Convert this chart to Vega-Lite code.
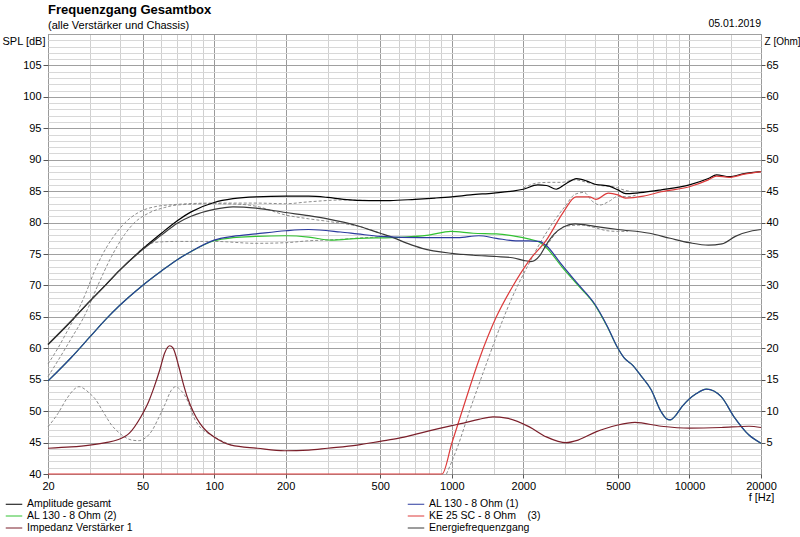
{
  "$schema": "https://vega.github.io/schema/vega-lite/v6.json",
  "autosize": "none",
  "padding": {"left": 48, "top": 34, "right": 39, "bottom": 63},
  "width": 713,
  "height": 440,
  "background": "white",
  "config": {
    "view": {"stroke": "#6e6e6e", "strokeWidth": 1},
    "font": "Liberation Sans"
  },
  "title": {
    "text": "Frequenzgang Gesamtbox",
    "subtitle": "(alle Verstärker und Chassis)",
    "anchor": "start",
    "frame": "group",
    "font": "Liberation Sans",
    "fontSize": 13,
    "fontWeight": "bold",
    "color": "#000000",
    "subtitleFont": "Liberation Sans",
    "subtitleFontSize": 11,
    "subtitleColor": "#000000",
    "subtitlePadding": 3,
    "offset": -12
  },
  "datasets": {
    "spl": [
      {"s": "Amplitude gesamt", "f": 20, "v": 60.6}, {"s": "Amplitude gesamt", "f": 25, "v": 64.3}, {"s": "Amplitude gesamt", "f": 30, "v": 67.5}, {"s": "Amplitude gesamt", "f": 35, "v": 70.1}, {"s": "Amplitude gesamt", "f": 40, "v": 72.4}, {"s": "Amplitude gesamt", "f": 50, "v": 75.8}, {"s": "Amplitude gesamt", "f": 60, "v": 78.3}, {"s": "Amplitude gesamt", "f": 70, "v": 80.3}, {"s": "Amplitude gesamt", "f": 80, "v": 81.7}, {"s": "Amplitude gesamt", "f": 100, "v": 83.2}, {"s": "Amplitude gesamt", "f": 120, "v": 83.8}, {"s": "Amplitude gesamt", "f": 150, "v": 84.1}, {"s": "Amplitude gesamt", "f": 200, "v": 84.2}, {"s": "Amplitude gesamt", "f": 250, "v": 84.2}, {"s": "Amplitude gesamt", "f": 300, "v": 84.0}, {"s": "Amplitude gesamt", "f": 350, "v": 83.7}, {"s": "Amplitude gesamt", "f": 450, "v": 83.5}, {"s": "Amplitude gesamt", "f": 550, "v": 83.5}, {"s": "Amplitude gesamt", "f": 700, "v": 83.7}, {"s": "Amplitude gesamt", "f": 850, "v": 83.9}, {"s": "Amplitude gesamt", "f": 1000, "v": 84.1}, {"s": "Amplitude gesamt", "f": 1200, "v": 84.4}, {"s": "Amplitude gesamt", "f": 1500, "v": 84.7}, {"s": "Amplitude gesamt", "f": 1800, "v": 85.0}, {"s": "Amplitude gesamt", "f": 2000, "v": 85.3}, {"s": "Amplitude gesamt", "f": 2300, "v": 86.0}, {"s": "Amplitude gesamt", "f": 2500, "v": 85.9}, {"s": "Amplitude gesamt", "f": 2750, "v": 85.3}, {"s": "Amplitude gesamt", "f": 3000, "v": 86.1}, {"s": "Amplitude gesamt", "f": 3350, "v": 87.0}, {"s": "Amplitude gesamt", "f": 3700, "v": 86.6}, {"s": "Amplitude gesamt", "f": 4000, "v": 86.1}, {"s": "Amplitude gesamt", "f": 4600, "v": 85.8}, {"s": "Amplitude gesamt", "f": 5000, "v": 85.2}, {"s": "Amplitude gesamt", "f": 5400, "v": 84.6}, {"s": "Amplitude gesamt", "f": 6000, "v": 84.7}, {"s": "Amplitude gesamt", "f": 6400, "v": 84.8}, {"s": "Amplitude gesamt", "f": 7600, "v": 85.2}, {"s": "Amplitude gesamt", "f": 10000, "v": 86.0}, {"s": "Amplitude gesamt", "f": 12000, "v": 87.0}, {"s": "Amplitude gesamt", "f": 13000, "v": 87.6}, {"s": "Amplitude gesamt", "f": 14700, "v": 87.3}, {"s": "Amplitude gesamt", "f": 17000, "v": 87.8}, {"s": "Amplitude gesamt", "f": 20000, "v": 88.1},

      {"s": "Energiefrequenzgang", "f": 20, "v": 60.6}, {"s": "Energiefrequenzgang", "f": 25, "v": 64.3}, {"s": "Energiefrequenzgang", "f": 30, "v": 67.5}, {"s": "Energiefrequenzgang", "f": 35, "v": 70.1}, {"s": "Energiefrequenzgang", "f": 40, "v": 72.4}, {"s": "Energiefrequenzgang", "f": 50, "v": 75.7}, {"s": "Energiefrequenzgang", "f": 60, "v": 78.0}, {"s": "Energiefrequenzgang", "f": 70, "v": 79.9}, {"s": "Energiefrequenzgang", "f": 80, "v": 81.0}, {"s": "Energiefrequenzgang", "f": 100, "v": 82.1}, {"s": "Energiefrequenzgang", "f": 120, "v": 82.5}, {"s": "Energiefrequenzgang", "f": 150, "v": 82.3}, {"s": "Energiefrequenzgang", "f": 200, "v": 81.6}, {"s": "Energiefrequenzgang", "f": 250, "v": 81.1}, {"s": "Energiefrequenzgang", "f": 300, "v": 80.6}, {"s": "Energiefrequenzgang", "f": 400, "v": 79.5}, {"s": "Energiefrequenzgang", "f": 500, "v": 78.3}, {"s": "Energiefrequenzgang", "f": 550, "v": 77.8}, {"s": "Energiefrequenzgang", "f": 650, "v": 76.7}, {"s": "Energiefrequenzgang", "f": 750, "v": 75.9}, {"s": "Energiefrequenzgang", "f": 1000, "v": 75.1}, {"s": "Energiefrequenzgang", "f": 1230, "v": 74.8}, {"s": "Energiefrequenzgang", "f": 1540, "v": 74.6}, {"s": "Energiefrequenzgang", "f": 1800, "v": 74.4}, {"s": "Energiefrequenzgang", "f": 2000, "v": 74.0}, {"s": "Energiefrequenzgang", "f": 2150, "v": 73.8}, {"s": "Energiefrequenzgang", "f": 2350, "v": 74.8}, {"s": "Energiefrequenzgang", "f": 2500, "v": 76.5}, {"s": "Energiefrequenzgang", "f": 2700, "v": 78.2}, {"s": "Energiefrequenzgang", "f": 2950, "v": 79.3}, {"s": "Energiefrequenzgang", "f": 3300, "v": 79.8}, {"s": "Energiefrequenzgang", "f": 4000, "v": 79.4}, {"s": "Energiefrequenzgang", "f": 5000, "v": 78.9}, {"s": "Energiefrequenzgang", "f": 6800, "v": 78.3}, {"s": "Energiefrequenzgang", "f": 8300, "v": 77.5}, {"s": "Energiefrequenzgang", "f": 10000, "v": 76.8}, {"s": "Energiefrequenzgang", "f": 12000, "v": 76.4}, {"s": "Energiefrequenzgang", "f": 13700, "v": 76.6}, {"s": "Energiefrequenzgang", "f": 15600, "v": 77.8}, {"s": "Energiefrequenzgang", "f": 18400, "v": 78.7}, {"s": "Energiefrequenzgang", "f": 20000, "v": 78.9},

      {"s": "AL 130 - 8 Ohm (1)", "f": 20, "v": 54.8}, {"s": "AL 130 - 8 Ohm (1)", "f": 25, "v": 58.5}, {"s": "AL 130 - 8 Ohm (1)", "f": 30, "v": 61.8}, {"s": "AL 130 - 8 Ohm (1)", "f": 35, "v": 64.6}, {"s": "AL 130 - 8 Ohm (1)", "f": 40, "v": 66.8}, {"s": "AL 130 - 8 Ohm (1)", "f": 50, "v": 70.0}, {"s": "AL 130 - 8 Ohm (1)", "f": 60, "v": 72.3}, {"s": "AL 130 - 8 Ohm (1)", "f": 70, "v": 74.1}, {"s": "AL 130 - 8 Ohm (1)", "f": 80, "v": 75.4}, {"s": "AL 130 - 8 Ohm (1)", "f": 100, "v": 77.2}, {"s": "AL 130 - 8 Ohm (1)", "f": 120, "v": 77.8}, {"s": "AL 130 - 8 Ohm (1)", "f": 150, "v": 78.2}, {"s": "AL 130 - 8 Ohm (1)", "f": 200, "v": 78.7}, {"s": "AL 130 - 8 Ohm (1)", "f": 250, "v": 78.9}, {"s": "AL 130 - 8 Ohm (1)", "f": 340, "v": 78.5}, {"s": "AL 130 - 8 Ohm (1)", "f": 400, "v": 78.2}, {"s": "AL 130 - 8 Ohm (1)", "f": 500, "v": 77.8}, {"s": "AL 130 - 8 Ohm (1)", "f": 750, "v": 77.6}, {"s": "AL 130 - 8 Ohm (1)", "f": 1060, "v": 77.6}, {"s": "AL 130 - 8 Ohm (1)", "f": 1300, "v": 77.9}, {"s": "AL 130 - 8 Ohm (1)", "f": 1540, "v": 77.5}, {"s": "AL 130 - 8 Ohm (1)", "f": 1860, "v": 77.1}, {"s": "AL 130 - 8 Ohm (1)", "f": 2100, "v": 77.1}, {"s": "AL 130 - 8 Ohm (1)", "f": 2330, "v": 77.0}, {"s": "AL 130 - 8 Ohm (1)", "f": 2500, "v": 76.3}, {"s": "AL 130 - 8 Ohm (1)", "f": 2900, "v": 73.3}, {"s": "AL 130 - 8 Ohm (1)", "f": 3400, "v": 70.2}, {"s": "AL 130 - 8 Ohm (1)", "f": 4000, "v": 67.0}, {"s": "AL 130 - 8 Ohm (1)", "f": 4500, "v": 63.6}, {"s": "AL 130 - 8 Ohm (1)", "f": 5000, "v": 60.0}, {"s": "AL 130 - 8 Ohm (1)", "f": 5300, "v": 58.5}, {"s": "AL 130 - 8 Ohm (1)", "f": 5800, "v": 57.2}, {"s": "AL 130 - 8 Ohm (1)", "f": 6200, "v": 55.8}, {"s": "AL 130 - 8 Ohm (1)", "f": 6900, "v": 53.4}, {"s": "AL 130 - 8 Ohm (1)", "f": 7600, "v": 49.9}, {"s": "AL 130 - 8 Ohm (1)", "f": 8000, "v": 48.8}, {"s": "AL 130 - 8 Ohm (1)", "f": 8300, "v": 48.6}, {"s": "AL 130 - 8 Ohm (1)", "f": 8700, "v": 49.2}, {"s": "AL 130 - 8 Ohm (1)", "f": 9300, "v": 50.7}, {"s": "AL 130 - 8 Ohm (1)", "f": 10700, "v": 52.8}, {"s": "AL 130 - 8 Ohm (1)", "f": 11800, "v": 53.5}, {"s": "AL 130 - 8 Ohm (1)", "f": 13600, "v": 52.3}, {"s": "AL 130 - 8 Ohm (1)", "f": 15400, "v": 49.1}, {"s": "AL 130 - 8 Ohm (1)", "f": 17800, "v": 46.2}, {"s": "AL 130 - 8 Ohm (1)", "f": 20000, "v": 44.9},

      {"s": "AL 130 - 8 Ohm (2)", "f": 20, "v": 54.8}, {"s": "AL 130 - 8 Ohm (2)", "f": 25, "v": 58.5}, {"s": "AL 130 - 8 Ohm (2)", "f": 30, "v": 61.8}, {"s": "AL 130 - 8 Ohm (2)", "f": 35, "v": 64.6}, {"s": "AL 130 - 8 Ohm (2)", "f": 40, "v": 66.8}, {"s": "AL 130 - 8 Ohm (2)", "f": 50, "v": 70.0}, {"s": "AL 130 - 8 Ohm (2)", "f": 60, "v": 72.3}, {"s": "AL 130 - 8 Ohm (2)", "f": 70, "v": 74.1}, {"s": "AL 130 - 8 Ohm (2)", "f": 80, "v": 75.4}, {"s": "AL 130 - 8 Ohm (2)", "f": 100, "v": 77.1}, {"s": "AL 130 - 8 Ohm (2)", "f": 120, "v": 77.6}, {"s": "AL 130 - 8 Ohm (2)", "f": 150, "v": 77.8}, {"s": "AL 130 - 8 Ohm (2)", "f": 200, "v": 77.9}, {"s": "AL 130 - 8 Ohm (2)", "f": 250, "v": 77.7}, {"s": "AL 130 - 8 Ohm (2)", "f": 310, "v": 77.2}, {"s": "AL 130 - 8 Ohm (2)", "f": 410, "v": 77.5}, {"s": "AL 130 - 8 Ohm (2)", "f": 560, "v": 77.6}, {"s": "AL 130 - 8 Ohm (2)", "f": 800, "v": 78.0}, {"s": "AL 130 - 8 Ohm (2)", "f": 990, "v": 78.6}, {"s": "AL 130 - 8 Ohm (2)", "f": 1230, "v": 78.3}, {"s": "AL 130 - 8 Ohm (2)", "f": 1540, "v": 78.2}, {"s": "AL 130 - 8 Ohm (2)", "f": 1860, "v": 77.8}, {"s": "AL 130 - 8 Ohm (2)", "f": 2100, "v": 77.4}, {"s": "AL 130 - 8 Ohm (2)", "f": 2330, "v": 76.9}, {"s": "AL 130 - 8 Ohm (2)", "f": 2500, "v": 76.0}, {"s": "AL 130 - 8 Ohm (2)", "f": 2900, "v": 73.0}, {"s": "AL 130 - 8 Ohm (2)", "f": 3400, "v": 70.0}, {"s": "AL 130 - 8 Ohm (2)", "f": 4000, "v": 66.9}, {"s": "AL 130 - 8 Ohm (2)", "f": 4500, "v": 63.5}, {"s": "AL 130 - 8 Ohm (2)", "f": 5000, "v": 60.0}, {"s": "AL 130 - 8 Ohm (2)", "f": 5300, "v": 58.5}, {"s": "AL 130 - 8 Ohm (2)", "f": 5800, "v": 57.2}, {"s": "AL 130 - 8 Ohm (2)", "f": 6200, "v": 55.8}, {"s": "AL 130 - 8 Ohm (2)", "f": 6900, "v": 53.4}, {"s": "AL 130 - 8 Ohm (2)", "f": 7600, "v": 49.9}, {"s": "AL 130 - 8 Ohm (2)", "f": 8000, "v": 48.8}, {"s": "AL 130 - 8 Ohm (2)", "f": 8300, "v": 48.6}, {"s": "AL 130 - 8 Ohm (2)", "f": 8700, "v": 49.2}, {"s": "AL 130 - 8 Ohm (2)", "f": 9300, "v": 50.7}, {"s": "AL 130 - 8 Ohm (2)", "f": 10700, "v": 52.8}, {"s": "AL 130 - 8 Ohm (2)", "f": 11800, "v": 53.5}, {"s": "AL 130 - 8 Ohm (2)", "f": 13600, "v": 52.3}, {"s": "AL 130 - 8 Ohm (2)", "f": 15400, "v": 49.1}, {"s": "AL 130 - 8 Ohm (2)", "f": 17800, "v": 46.2}, {"s": "AL 130 - 8 Ohm (2)", "f": 20000, "v": 44.9},

      {"s": "KE 25 SC - 8 Ohm\u00a0\u00a0\u00a0 (3)", "f": 20, "v": 40.0}, {"s": "KE 25 SC - 8 Ohm\u00a0\u00a0\u00a0 (3)", "f": 910, "v": 40.0}, {"s": "KE 25 SC - 8 Ohm\u00a0\u00a0\u00a0 (3)", "f": 1000, "v": 44.9}, {"s": "KE 25 SC - 8 Ohm\u00a0\u00a0\u00a0 (3)", "f": 1120, "v": 50.7}, {"s": "KE 25 SC - 8 Ohm\u00a0\u00a0\u00a0 (3)", "f": 1300, "v": 58.1}, {"s": "KE 25 SC - 8 Ohm\u00a0\u00a0\u00a0 (3)", "f": 1540, "v": 65.0}, {"s": "KE 25 SC - 8 Ohm\u00a0\u00a0\u00a0 (3)", "f": 1800, "v": 69.8}, {"s": "KE 25 SC - 8 Ohm\u00a0\u00a0\u00a0 (3)", "f": 2120, "v": 74.0}, {"s": "KE 25 SC - 8 Ohm\u00a0\u00a0\u00a0 (3)", "f": 2500, "v": 77.2}, {"s": "KE 25 SC - 8 Ohm\u00a0\u00a0\u00a0 (3)", "f": 2930, "v": 81.5}, {"s": "KE 25 SC - 8 Ohm\u00a0\u00a0\u00a0 (3)", "f": 3330, "v": 84.1}, {"s": "KE 25 SC - 8 Ohm\u00a0\u00a0\u00a0 (3)", "f": 3790, "v": 84.1}, {"s": "KE 25 SC - 8 Ohm\u00a0\u00a0\u00a0 (3)", "f": 4040, "v": 83.7}, {"s": "KE 25 SC - 8 Ohm\u00a0\u00a0\u00a0 (3)", "f": 4560, "v": 84.7}, {"s": "KE 25 SC - 8 Ohm\u00a0\u00a0\u00a0 (3)", "f": 5000, "v": 84.4}, {"s": "KE 25 SC - 8 Ohm\u00a0\u00a0\u00a0 (3)", "f": 5380, "v": 83.9}, {"s": "KE 25 SC - 8 Ohm\u00a0\u00a0\u00a0 (3)", "f": 6400, "v": 84.2}, {"s": "KE 25 SC - 8 Ohm\u00a0\u00a0\u00a0 (3)", "f": 7600, "v": 84.9}, {"s": "KE 25 SC - 8 Ohm\u00a0\u00a0\u00a0 (3)", "f": 10000, "v": 85.7}, {"s": "KE 25 SC - 8 Ohm\u00a0\u00a0\u00a0 (3)", "f": 12000, "v": 86.8}, {"s": "KE 25 SC - 8 Ohm\u00a0\u00a0\u00a0 (3)", "f": 13000, "v": 87.4}, {"s": "KE 25 SC - 8 Ohm\u00a0\u00a0\u00a0 (3)", "f": 14700, "v": 87.2}, {"s": "KE 25 SC - 8 Ohm\u00a0\u00a0\u00a0 (3)", "f": 17000, "v": 87.7}, {"s": "KE 25 SC - 8 Ohm\u00a0\u00a0\u00a0 (3)", "f": 20000, "v": 88.1}
    ],
    "dashed": [
      {"g": "d2", "f": 20, "v": 57.5}, {"g": "d2", "f": 22, "v": 60.0}, {"g": "d2", "f": 24, "v": 62.6}, {"g": "d2", "f": 26.6, "v": 65.8}, {"g": "d2", "f": 29, "v": 69.0}, {"g": "d2", "f": 31.4, "v": 72.3}, {"g": "d2", "f": 34, "v": 75.0}, {"g": "d2", "f": 37, "v": 77.3}, {"g": "d2", "f": 42, "v": 79.9}, {"g": "d2", "f": 48, "v": 81.6}, {"g": "d2", "f": 56, "v": 82.5}, {"g": "d2", "f": 70, "v": 82.9}, {"g": "d2", "f": 100, "v": 83.1}, {"g": "d2", "f": 150, "v": 83.1}, {"g": "d2", "f": 200, "v": 83.0}, {"g": "d2", "f": 250, "v": 83.3}, {"g": "d2", "f": 350, "v": 83.6}, {"g": "d2", "f": 450, "v": 83.5},
      {"g": "d3", "f": 20, "v": 55.5}, {"g": "d3", "f": 22, "v": 58.0}, {"g": "d3", "f": 25, "v": 61.5}, {"g": "d3", "f": 28.5, "v": 65.2}, {"g": "d3", "f": 32.4, "v": 70.0}, {"g": "d3", "f": 37, "v": 74.6}, {"g": "d3", "f": 42, "v": 78.1}, {"g": "d3", "f": 46, "v": 79.9}, {"g": "d3", "f": 53, "v": 81.5}, {"g": "d3", "f": 62, "v": 82.4}, {"g": "d3", "f": 70, "v": 82.8}, {"g": "d3", "f": 100, "v": 83.0}, {"g": "d3", "f": 130, "v": 82.9}, {"g": "d3", "f": 150, "v": 82.6}, {"g": "d3", "f": 200, "v": 81.2}, {"g": "d3", "f": 250, "v": 80.6}, {"g": "d3", "f": 300, "v": 80.2}, {"g": "d3", "f": 435, "v": 79.1}, {"g": "d3", "f": 500, "v": 78.3},
      {"g": "d4", "f": 48, "v": 75.3}, {"g": "d4", "f": 52, "v": 76.4}, {"g": "d4", "f": 58, "v": 76.9}, {"g": "d4", "f": 70, "v": 77.0}, {"g": "d4", "f": 100, "v": 77.0}, {"g": "d4", "f": 150, "v": 76.7}, {"g": "d4", "f": 200, "v": 76.8}, {"g": "d4", "f": 250, "v": 77.1}, {"g": "d4", "f": 330, "v": 77.3}, {"g": "d4", "f": 430, "v": 77.6}, {"g": "d4", "f": 500, "v": 77.7},
      {"g": "d5", "f": 950, "v": 40.0}, {"g": "d5", "f": 1050, "v": 44.0}, {"g": "d5", "f": 1200, "v": 50.5}, {"g": "d5", "f": 1400, "v": 57.6}, {"g": "d5", "f": 1600, "v": 63.5}, {"g": "d5", "f": 1800, "v": 68.2}, {"g": "d5", "f": 2100, "v": 73.3}, {"g": "d5", "f": 2400, "v": 77.3}, {"g": "d5", "f": 2700, "v": 80.3}, {"g": "d5", "f": 3000, "v": 82.6}, {"g": "d5", "f": 3300, "v": 84.5}, {"g": "d5", "f": 3600, "v": 84.8}, {"g": "d5", "f": 3900, "v": 83.4}, {"g": "d5", "f": 4200, "v": 82.8}, {"g": "d5", "f": 4600, "v": 83.4}, {"g": "d5", "f": 5000, "v": 84.2}, {"g": "d5", "f": 5500, "v": 84.1}, {"g": "d5", "f": 6000, "v": 84.4},
      {"g": "d6", "f": 2000, "v": 85.5}, {"g": "d6", "f": 2300, "v": 86.3}, {"g": "d6", "f": 2600, "v": 86.4}, {"g": "d6", "f": 2900, "v": 86.4}, {"g": "d6", "f": 3300, "v": 86.8}, {"g": "d6", "f": 3700, "v": 86.4}, {"g": "d6", "f": 4200, "v": 85.9}, {"g": "d6", "f": 4800, "v": 85.7}, {"g": "d6", "f": 5400, "v": 85.1}, {"g": "d6", "f": 6000, "v": 84.9}, {"g": "d6", "f": 6500, "v": 84.9},
      {"g": "d7", "f": 2500, "v": 76.2}, {"g": "d7", "f": 3000, "v": 79.4}, {"g": "d7", "f": 3500, "v": 79.6}, {"g": "d7", "f": 4000, "v": 79.2}, {"g": "d7", "f": 4500, "v": 78.7}, {"g": "d7", "f": 5000, "v": 78.6}, {"g": "d7", "f": 5500, "v": 78.6}
    ],
    "imp": [
      {"s": "Impedanz Verstärker 1", "f": 20, "z": 4.1}, {"s": "Impedanz Verstärker 1", "f": 25, "z": 4.3}, {"s": "Impedanz Verstärker 1", "f": 30, "z": 4.6}, {"s": "Impedanz Verstärker 1", "f": 35, "z": 5.0}, {"s": "Impedanz Verstärker 1", "f": 39, "z": 5.4}, {"s": "Impedanz Verstärker 1", "f": 44, "z": 6.5}, {"s": "Impedanz Verstärker 1", "f": 49, "z": 9.0}, {"s": "Impedanz Verstärker 1", "f": 53, "z": 11.5}, {"s": "Impedanz Verstärker 1", "f": 56, "z": 13.9}, {"s": "Impedanz Verstärker 1", "f": 59, "z": 16.5}, {"s": "Impedanz Verstärker 1", "f": 62, "z": 19.3}, {"s": "Impedanz Verstärker 1", "f": 65, "z": 20.4}, {"s": "Impedanz Verstärker 1", "f": 67, "z": 20.1}, {"s": "Impedanz Verstärker 1", "f": 71, "z": 17.1}, {"s": "Impedanz Verstärker 1", "f": 74, "z": 14.5}, {"s": "Impedanz Verstärker 1", "f": 77, "z": 12.3}, {"s": "Impedanz Verstärker 1", "f": 82, "z": 9.8}, {"s": "Impedanz Verstärker 1", "f": 87, "z": 8.1}, {"s": "Impedanz Verstärker 1", "f": 93, "z": 6.8}, {"s": "Impedanz Verstärker 1", "f": 100, "z": 5.9}, {"s": "Impedanz Verstärker 1", "f": 118, "z": 4.6}, {"s": "Impedanz Verstärker 1", "f": 152, "z": 4.1}, {"s": "Impedanz Verstärker 1", "f": 198, "z": 3.7}, {"s": "Impedanz Verstärker 1", "f": 250, "z": 3.8}, {"s": "Impedanz Verstärker 1", "f": 300, "z": 4.1}, {"s": "Impedanz Verstärker 1", "f": 400, "z": 4.6}, {"s": "Impedanz Verstärker 1", "f": 500, "z": 5.2}, {"s": "Impedanz Verstärker 1", "f": 600, "z": 5.7}, {"s": "Impedanz Verstärker 1", "f": 700, "z": 6.3}, {"s": "Impedanz Verstärker 1", "f": 810, "z": 6.9}, {"s": "Impedanz Verstärker 1", "f": 1000, "z": 7.7}, {"s": "Impedanz Verstärker 1", "f": 1120, "z": 8.1}, {"s": "Impedanz Verstärker 1", "f": 1300, "z": 8.7}, {"s": "Impedanz Verstärker 1", "f": 1490, "z": 9.1}, {"s": "Impedanz Verstärker 1", "f": 1700, "z": 8.9}, {"s": "Impedanz Verstärker 1", "f": 2120, "z": 7.5}, {"s": "Impedanz Verstärker 1", "f": 2500, "z": 5.9}, {"s": "Impedanz Verstärker 1", "f": 2800, "z": 5.2}, {"s": "Impedanz Verstärker 1", "f": 3020, "z": 5.0}, {"s": "Impedanz Verstärker 1", "f": 3400, "z": 5.4}, {"s": "Impedanz Verstärker 1", "f": 4040, "z": 6.7}, {"s": "Impedanz Verstärker 1", "f": 4400, "z": 7.2}, {"s": "Impedanz Verstärker 1", "f": 5000, "z": 7.8}, {"s": "Impedanz Verstärker 1", "f": 5900, "z": 8.2}, {"s": "Impedanz Verstärker 1", "f": 7600, "z": 7.6}, {"s": "Impedanz Verstärker 1", "f": 10000, "z": 7.3}, {"s": "Impedanz Verstärker 1", "f": 13600, "z": 7.4}, {"s": "Impedanz Verstärker 1", "f": 17800, "z": 7.6}, {"s": "Impedanz Verstärker 1", "f": 20000, "z": 7.4}
    ],
    "impDashed": [
      {"g": "i1", "f": 20, "z": 7.5}, {"g": "i1", "f": 22, "z": 9.6}, {"g": "i1", "f": 24, "z": 12.0}, {"g": "i1", "f": 26, "z": 13.6}, {"g": "i1", "f": 27, "z": 13.9}, {"g": "i1", "f": 28, "z": 13.7}, {"g": "i1", "f": 30, "z": 12.8}, {"g": "i1", "f": 31.5, "z": 12.0}, {"g": "i1", "f": 34, "z": 10.0}, {"g": "i1", "f": 37, "z": 7.8}, {"g": "i1", "f": 40, "z": 6.5}, {"g": "i1", "f": 42, "z": 5.9}, {"g": "i1", "f": 45, "z": 5.4}, {"g": "i1", "f": 48, "z": 5.3}, {"g": "i1", "f": 52, "z": 5.9}, {"g": "i1", "f": 55, "z": 7.0}, {"g": "i1", "f": 58, "z": 8.7}, {"g": "i1", "f": 62, "z": 11.0}, {"g": "i1", "f": 66, "z": 13.3}, {"g": "i1", "f": 69, "z": 13.9}, {"g": "i1", "f": 72, "z": 13.4}, {"g": "i1", "f": 75, "z": 12.6}, {"g": "i1", "f": 79, "z": 10.8}, {"g": "i1", "f": 82, "z": 9.1}, {"g": "i1", "f": 88, "z": 7.3}, {"g": "i1", "f": 94, "z": 6.5}, {"g": "i1", "f": 100, "z": 5.9}, {"g": "i1", "f": 118, "z": 4.6}
    ],
    "date": [{"f": 20000, "v": 110, "t": "05.01.2019"}]
  },
  "encoding": {
    "x": {
      "field": "f",
      "type": "quantitative",
      "scale": {"type": "log", "domain": [20, 20000], "nice": false},
      "axis": {
        "values": [20, 30, 40, 50, 60, 70, 80, 90, 100, 150, 200, 300, 400, 500, 600, 700, 800, 900, 1000, 1500, 2000, 3000, 4000, 5000, 6000, 7000, 8000, 9000, 10000, 15000, 20000],
        "format": "d",
        "labelExpr": "indexof([20,50,100,200,500,1000,2000,5000,10000,20000], datum.value) >= 0 ? datum.label : ''",
        "gridColor": {"condition": {"test": "indexof([20,50,100,200,500,1000,2000,5000,10000,20000], datum.value) >= 0", "value": "#9a9a9a"}, "value": "#d0d0d0"},
        "tickColor": {"condition": {"test": "indexof([20,50,100,200,500,1000,2000,5000,10000,20000], datum.value) >= 0", "value": "#555555"}, "value": "transparent"},
        "tickSize": 4,
        "domain": false,
        "labelFont": "Liberation Sans",
        "labelFontSize": 11,
        "labelColor": "#000000",
        "labelPadding": 2,
        "labelFlush": false,
        "labelOverlap": false,
        "title": "f [Hz]",
        "titleX": 713,
        "titleY": 23,
        "titleAlign": "center",
        "titleBaseline": "middle",
        "titleFont": "Liberation Sans",
        "titleFontSize": 11,
        "titleFontWeight": "normal",
        "titleColor": "#000000"
      }
    }
  },
  "layer": [
    {
      "encoding": {
        "y": {
          "field": "v",
          "type": "quantitative",
          "scale": {"domain": [40, 110], "nice": false, "zero": false},
          "axis": {
            "values": [40,41,42,43,44,45,46,47,48,49,50,51,52,53,54,55,56,57,58,59,60,61,62,63,64,65,66,67,68,69,70,71,72,73,74,75,76,77,78,79,80,81,82,83,84,85,86,87,88,89,90,91,92,93,94,95,96,97,98,99,100,101,102,103,104,105,106,107,108,109,110],
            "labelExpr": "datum.value % 5 === 0 && datum.value < 110 ? datum.label : ''",
            "gridColor": {"condition": {"test": "datum.value % 5 === 0", "value": "#a0a0a0"}, "value": "#d8d8d8"},
            "tickColor": {"condition": {"test": "datum.value % 5 === 0 && datum.value < 110", "value": "#555555"}, "value": "transparent"},
            "tickSize": 5,
            "domain": false,
            "labelFont": "Liberation Sans",
            "labelFontSize": 11,
            "labelColor": "#000000",
            "labelPadding": 2,
            "labelOverlap": false,
            "title": "SPL [dB]",
            "titleAngle": 0,
            "titleX": -3,
            "titleY": 7,
            "titleAlign": "right",
            "titleBaseline": "middle",
            "titleFont": "Liberation Sans",
            "titleFontSize": 11,
            "titleFontWeight": "normal",
            "titleColor": "#000000"
          }
        }
      },
      "layer": [
        {
          "data": {"name": "dashed"},
          "mark": {"type": "line", "strokeDash": [3, 2], "color": "#8c8c8c", "strokeWidth": 1, "interpolate": "monotone"},
          "encoding": {"detail": {"field": "g", "type": "nominal"}}
        },
        {
          "data": {"name": "spl"},
          "transform": [{"filter": "datum.s === 'AL 130 - 8 Ohm (2)'"}],
          "mark": {"type": "line", "strokeWidth": 1.2, "interpolate": "monotone"},
          "encoding": {
            "color": {
              "field": "s", "type": "nominal",
              "scale": {"domain": ["Amplitude gesamt", "AL 130 - 8 Ohm (2)", "Impedanz Verstärker 1", "AL 130 - 8 Ohm (1)", "KE 25 SC - 8 Ohm\u00a0\u00a0\u00a0 (3)", "Energiefrequenzgang"], "range": ["#000000", "#33c233", "#7b1f2a", "#2b3a9e", "#dd3b3b", "#3a3a3a"]},
              "legend": {"title": null, "orient": "none", "legendX": -40, "legendY": 464, "columns": 2, "columnPadding": 272, "rowPadding": 0, "symbolType": "M-1.5,0H1.5", "symbolSize": 121, "symbolStrokeWidth": 1, "labelFont": "Liberation Sans", "labelFontSize": 10.5, "labelColor": "#000000", "labelOffset": 7, "labelLimit": 300, "padding": 0}
            }
          }
        },
        {
          "data": {"name": "spl"},
          "transform": [{"filter": "datum.s !== 'AL 130 - 8 Ohm (2)'"}],
          "mark": {"type": "line", "strokeWidth": 1.2, "interpolate": "monotone"},
          "encoding": {
            "color": {
              "field": "s", "type": "nominal",
              "scale": {"domain": ["Amplitude gesamt", "AL 130 - 8 Ohm (2)", "Impedanz Verstärker 1", "AL 130 - 8 Ohm (1)", "KE 25 SC - 8 Ohm\u00a0\u00a0\u00a0 (3)", "Energiefrequenzgang"], "range": ["#000000", "#33c233", "#7b1f2a", "#2b3a9e", "#dd3b3b", "#3a3a3a"]},
              "legend": {"title": null, "orient": "none", "legendX": -40, "legendY": 464, "columns": 2, "columnPadding": 272, "rowPadding": 0, "symbolType": "M-1.5,0H1.5", "symbolSize": 121, "symbolStrokeWidth": 1, "labelFont": "Liberation Sans", "labelFontSize": 10.5, "labelColor": "#000000", "labelOffset": 7, "labelLimit": 300, "padding": 0}
            }
          }
        },
        {
          "data": {"name": "date"},
          "mark": {"type": "text", "align": "right", "baseline": "alphabetic", "dy": -7, "font": "Liberation Sans", "fontSize": 10.5, "color": "#000000"},
          "encoding": {"text": {"field": "t", "type": "nominal"}}
        }
      ]
    },
    {
      "encoding": {
        "y": {
          "field": "z",
          "type": "quantitative",
          "scale": {"domain": [0, 70], "nice": false, "zero": false},
          "axis": {
            "orient": "right",
            "values": [0, 5, 10, 15, 20, 25, 30, 35, 40, 45, 50, 55, 60, 65, 70],
            "labelExpr": "datum.value > 0 && datum.value < 70 ? datum.label : ''",
            "grid": false,
            "tickColor": {"condition": {"test": "datum.value > 0 && datum.value < 70", "value": "#555555"}, "value": "transparent"},
            "tickSize": 4,
            "domain": false,
            "labelFont": "Liberation Sans",
            "labelFontSize": 11,
            "labelColor": "#000000",
            "labelPadding": 1,
            "labelOverlap": false,
            "title": "Z [Ohm]",
            "titleAngle": 0,
            "titleX": 3,
            "titleY": 7,
            "titleAlign": "left",
            "titleBaseline": "middle",
            "titleFont": "Liberation Sans",
            "titleFontSize": 10,
            "titleFontWeight": "normal",
            "titleColor": "#000000"
          }
        }
      },
      "layer": [
        {
          "data": {"name": "impDashed"},
          "mark": {"type": "line", "strokeDash": [3, 2], "color": "#8c8c8c", "strokeWidth": 1, "interpolate": "monotone"},
          "encoding": {"detail": {"field": "g", "type": "nominal"}}
        },
        {
          "data": {"name": "imp"},
          "mark": {"type": "line", "strokeWidth": 1.2, "interpolate": "monotone"},
          "encoding": {
            "color": {
              "field": "s", "type": "nominal",
              "scale": {"domain": ["Amplitude gesamt", "AL 130 - 8 Ohm (2)", "Impedanz Verstärker 1", "AL 130 - 8 Ohm (1)", "KE 25 SC - 8 Ohm\u00a0\u00a0\u00a0 (3)", "Energiefrequenzgang"], "range": ["#000000", "#33c233", "#7b1f2a", "#2b3a9e", "#dd3b3b", "#3a3a3a"]},
              "legend": {"title": null, "orient": "none", "legendX": -40, "legendY": 464, "columns": 2, "columnPadding": 272, "rowPadding": 0, "symbolType": "M-1.5,0H1.5", "symbolSize": 121, "symbolStrokeWidth": 1, "labelFont": "Liberation Sans", "labelFontSize": 10.5, "labelColor": "#000000", "labelOffset": 7, "labelLimit": 300, "padding": 0}
            }
          }
        }
      ]
    }
  ],
  "resolve": {"scale": {"y": "independent"}}
}
